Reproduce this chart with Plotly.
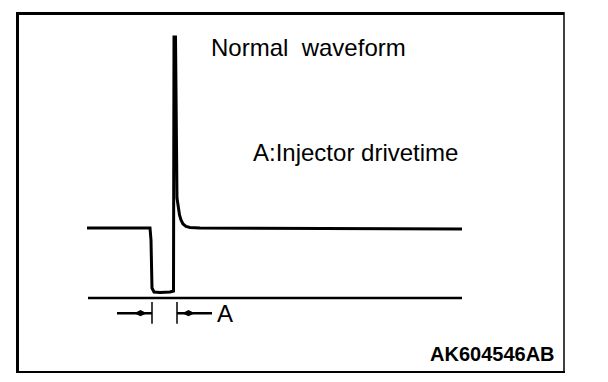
import plotly.graph_objects as go

# ---- data (time in ms, voltage in V) ----
wave_t = [0.0, 2.52, 2.56, 2.60, 2.68, 2.92, 3.32, 3.46, 3.48, 3.54, 3.60, 3.64,
          3.70, 3.76, 3.84, 3.96, 4.12, 4.52, 8.52, 15.0]
wave_v = [12.0, 12.0, 9.94, 1.71, 1.03, 0.94, 1.03, 1.2, 44.74, 44.74, 17.14, 15.77,
          14.23, 13.37, 12.69, 12.26, 12.09, 12.0, 11.91, 11.83]
ground_t = [0.04, 15.0]
ground_v = [0.0, 0.0]
drive_start = 2.60   # ms, injector switched on
drive_end = 3.60     # ms, injector switched off
title_text = "Normal  waveform"
legend_text = "A:Injector drivetime"
dim_label = "A"
code_label = "AK604546AB"

# ---- axis scale (px per unit) ----
PX_T = 25.0
PX_V = 70.0 / 12.0
T0_PX, V0_PX = 87.0, 298.0
W, H = 608, 382
x_range = [(0 - T0_PX) / PX_T, (W - T0_PX) / PX_T]
y_range = [(V0_PX - H) / PX_V, (V0_PX - 0) / PX_V]

fig = go.Figure()
fig.add_trace(go.Scatter(x=wave_t, y=wave_v, mode="lines",
                         line=dict(color="black", width=3),
                         hoverinfo="skip"))
fig.add_trace(go.Scatter(x=ground_t, y=ground_v, mode="lines",
                         line=dict(color="black", width=2.5), hoverinfo="skip"))

# dimension marks for drive time A
dim_v = -2.6
arm = 1.4
fig.add_trace(go.Scatter(x=[drive_start - arm, drive_start], y=[dim_v, dim_v], mode="lines",
                         line=dict(color="black", width=2.5), hoverinfo="skip"))
fig.add_trace(go.Scatter(x=[drive_end, drive_end + arm], y=[dim_v, dim_v], mode="lines",
                         line=dict(color="black", width=2.5), hoverinfo="skip"))
fig.add_trace(go.Scatter(x=[drive_start - 0.46, drive_end + 0.46], y=[dim_v, dim_v], mode="markers",
                         marker=dict(symbol="diamond-wide", size=9, color="black"), hoverinfo="skip"))
for tx in (drive_start, drive_end):
    fig.add_trace(go.Scatter(x=[tx, tx], y=[dim_v - 1.8, dim_v + 1.9], mode="lines",
                             line=dict(color="black", width=1.5), hoverinfo="skip"))

fig.add_annotation(x=drive_end + arm + 0.12, y=dim_v, text=dim_label, showarrow=False,
                   xanchor="left", yanchor="middle",
                   font=dict(family="Liberation Sans, Arial", size=24, color="black"))
fig.add_annotation(x=(209 - T0_PX) / PX_T, y=(V0_PX - 47) / PX_V, text=title_text, showarrow=False,
                   xanchor="left", yanchor="middle",
                   font=dict(family="Liberation Sans, Arial", size=24, color="black"))
fig.add_annotation(x=(251 - T0_PX) / PX_T, y=(V0_PX - 152.5) / PX_V, text=legend_text, showarrow=False,
                   xanchor="left", yanchor="middle",
                   font=dict(family="Liberation Sans, Arial", size=24, color="black"))
fig.add_annotation(x=557 / W, y=1 - 354 / H, xref="paper", yref="paper", text="<b>" + code_label + "</b>",
                   showarrow=False, xanchor="right", yanchor="middle",
                   font=dict(family="Liberation Sans, Arial", size=20, color="black"))

# frame
def px_line(x0, y0, x1, y1, w):
    fig.add_shape(type="line", xref="paper", yref="paper",
                  x0=x0 / W, y0=1 - y0 / H, x1=x1 / W, y1=1 - y1 / H,
                  line=dict(color="black", width=w))

px_line(17, 13.5, 564, 13.5, 3)
px_line(17.5, 12, 17.5, 372, 3)
px_line(564, 12, 564, 372, 1.5)
px_line(16, 372, 565, 372, 2)

fig.update_layout(width=W, height=H, margin=dict(l=0, r=0, t=0, b=0),
                  paper_bgcolor="white", plot_bgcolor="white", showlegend=False)
fig.update_xaxes(range=x_range, visible=False, fixedrange=True)
fig.update_yaxes(range=y_range, visible=False, fixedrange=True)
fig.write_html("out.html", config={"displayModeBar": False},
               post_script="document.body.style.margin='0';document.body.style.overflow='hidden';")
